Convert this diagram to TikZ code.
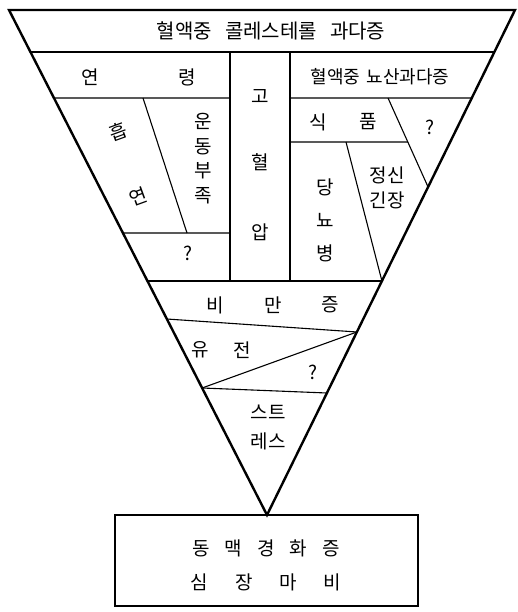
\documentclass[tikz,border=0pt]{standalone}
\usepackage{fontspec}
\setmainfont{Noto Sans CJK KR}
\usetikzlibrary{calc}

\begin{document}
\begin{tikzpicture}[
    x=1pt,
    y=-1pt,
    rim/.style={line width=2.4pt, line join=miter},
    partline/.style={line width=1.1pt},
    lbl/.style={font=\fontsize{19}{22}\selectfont, inner sep=0pt}
]

    \useasboundingbox (0,0) rectangle (517,612);

    % Hoeken van de driehoek
    \coordinate (TL) at (9,10);
    \coordinate (TR) at (515,10);
    \coordinate (A) at (267,515);

    % Punten op de randen
    \coordinate (L52) at ($(TL)!0.0832!(A)$);
    \coordinate (R52) at ($(TR)!0.0832!(A)$);
    \coordinate (L98) at ($(TL)!0.1743!(A)$);
    \coordinate (R98) at ($(TR)!0.1743!(A)$);
    \coordinate (R187) at ($(TR)!0.3505!(A)$);
    \coordinate (L233) at ($(TL)!0.4416!(A)$);
    \coordinate (L281) at ($(TL)!0.5366!(A)$);
    \coordinate (R281) at ($(TR)!0.5366!(A)$);
    \coordinate (L319) at ($(TL)!0.6119!(A)$);
    \coordinate (R332) at ($(TR)!0.6376!(A)$);
    \coordinate (L388) at ($(TL)!0.7485!(A)$);
    \coordinate (R393) at ($(TR)!0.7584!(A)$);

    % Binnenpunten
    \coordinate (C1t) at (230,52);
    \coordinate (C1m) at (230,98);
    \coordinate (C1q) at (230,233);
    \coordinate (C1b) at (230,281);
    \coordinate (C2t) at (290,52);
    \coordinate (C2m) at (290,98);
    \coordinate (C2f) at (290,142);
    \coordinate (C2b) at (290,281);
    \coordinate (S1) at (143,98);
    \coordinate (S2) at (187,233);
    \coordinate (F1) at (388,98);
    \coordinate (F2) at ($(F1)!0.494!(R187)$);
    \coordinate (G1) at (346,142);

    % Scheidingslijnen
    \draw[partline] (L52) -- (R52);
    \draw[partline] (L98) -- (C1m);
    \draw[partline] (C2m) -- (R98);
    \draw[partline] (C1t) -- (C1b);
    \draw[partline] (C2t) -- (C2b);
    \draw[partline] (S1) -- (S2);
    \draw[partline] (L233) -- (C1q);
    \draw[partline] (C2f) -- (F2);
    \draw[partline] (F1) -- (R187);
    \draw[partline] (G1) -- (R281);
    \draw[partline] (L281) -- (R281);
    \draw[partline] (L319) -- (R332);
    \draw[partline] (L388) -- (R332);
    \draw[partline] (L388) -- (R393);

    % Driehoek
    \draw[rim] (TL) -- (TR) -- (A) -- cycle;

    % Onderste kader
    \node[
        draw,
        line width=1.6pt,
        minimum width=303pt,
        minimum height=91pt,
        inner sep=0pt
    ] (box) at (266.5,560.5) {};

    % Teksten
    \node[lbl, font=\fontsize{20}{22}\selectfont] (chol) at (271,31)
        {혈액중\hspace{13pt}콜레스테롤\hspace{13pt}과다증};
    \node[lbl] (age1) at (90,77) {연};
    \node[lbl] (age2) at (187,77) {령};
    \node[lbl, font=\fontsize{18}{20}\selectfont] (uric) at (380,77)
        {혈액중\hspace{6pt}뇨산과다증};
    \node[lbl] (hyp1) at (260,97) {고};
    \node[lbl] (hyp2) at (260,162) {혈};
    \node[lbl] (hyp3) at (260,232) {압};
    \node[lbl, rotate=20] (smk1) at (118,132) {흡};
    \node[lbl, rotate=20] (smk2) at (138,197) {연};
    \node[
        lbl,
        align=center,
        font=\fontsize{19}{24.5}\selectfont
    ] (exer) at (203,158.5) {운\\동\\부\\족};
    \node[lbl] (qa) at (188,253) {?};
    \node[lbl] (food1) at (318,122) {식};
    \node[lbl] (food2) at (368,122) {품};
    \node[lbl] (qb) at (430,127) {?};
    \node[
        lbl,
        align=center,
        font=\fontsize{19}{25}\selectfont
    ] (tens) at (387,187.5) {정신\\긴장};
    \node[
        lbl,
        align=center,
        font=\fontsize{19}{33}\selectfont
    ] (diab) at (325,220) {당\\뇨\\병};
    \node[lbl] (obe1) at (215,305) {비};
    \node[lbl] (obe2) at (273,305) {만};
    \node[lbl] (obe3) at (330,305) {증};
    \node[lbl] (her1) at (200,350) {유};
    \node[lbl] (her2) at (242,350) {전};
    \node[lbl] (qc) at (313,372) {?};
    \node[
        lbl,
        align=center,
        font=\fontsize{19}{29}\selectfont
    ] (strs) at (268,427.5) {스트\\레스};
    \node[lbl] (ath) at (266,548)
        {동\hspace{15pt}맥\hspace{15pt}경\hspace{15pt}화\hspace{15pt}증};
    \node[lbl] (mi) at (266,582)
        {심\hspace{27pt}장\hspace{27pt}마\hspace{27pt}비};

\end{tikzpicture}
\end{document}
